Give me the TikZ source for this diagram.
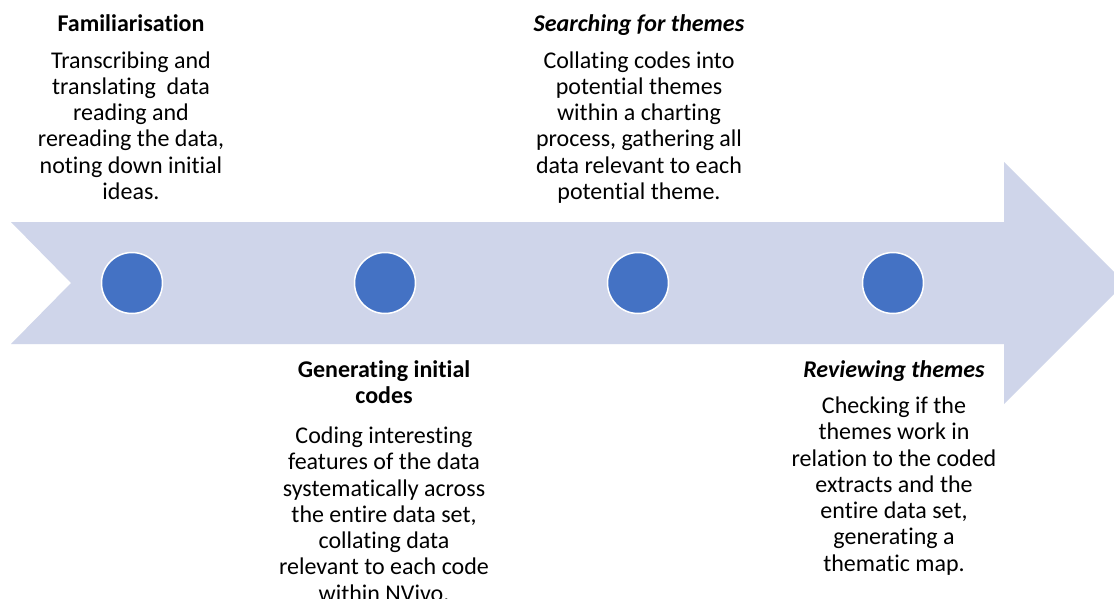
\documentclass[tikz,border=0pt]{standalone}
\usepackage{fontspec}
\setmainfont{Carlito}[Ligatures={CommonOff,ContextualOff}]
\definecolor{arrowfill}{HTML}{CFD5EA}
\definecolor{dotblue}{HTML}{4472C4}
\tikzset{
  txt/.style={align=center, inner sep=0pt, anchor=base, text=black,
    font=\fontsize{24}{26.25}\selectfont},
  ttl/.style={txt, font=\fontsize{24}{26.25}\selectfont\bfseries},
  ittl/.style={txt, font=\fontsize{24}{26.25}\selectfont\bfseries\itshape},
  dot/.style={circle, minimum size=61pt, inner sep=0pt, fill=dotblue, draw=white, line width=1.5pt},
}
\begin{document}
\begin{tikzpicture}[x=1pt,y=-1pt]
\useasboundingbox (0,0) rectangle (1114,598);
\clip (0,0) rectangle (1114,598);
\fill[white] (0,0) rectangle (1114,598);
% arrow
\fill[arrowfill] (11,222) -- (1004,222) -- (1004,162) -- (1125,283) -- (1004,404) -- (1004,344) -- (11,344) -- (71,283) -- cycle;
% dots
\node[dot] (d1) at (132,283) {};
\node[dot] (d2) at (385,283) {};
\node[dot] (d3) at (638,283) {};
\node[dot] (d4) at (893,283) {};
% (anchor = baseline of the last line)
% step 1
\node[ttl] (t1) at (131,31.7) {Familiarisation};
\node[txt] (b1) at (131,199.3) {Transcribing and\\translating\ \ data\\reading and\\rereading the data,\\noting down initial\\ideas.};
% step 3
\node[ittl] (t3) at (639,31) {Searching for themes};
\node[txt] (b3) at (639,199.3) {Collating codes into\\potential themes\\within a charting\\process, gathering all\\data relevant to each\\potential theme.};
% step 2
\node[ttl] (t2) at (384,403.3) {Generating initial\\codes};
\node[txt] (b2) at (384,601) {Coding interesting\\features of the data\\systematically across\\the entire data set,\\collating data\\relevant to each code\\within NVivo.};
% step 4
\node[ittl] (t4) at (894,377) {Reviewing themes};
\node[txt] (b4) at (894,571) {Checking if the\\themes work in\\relation to the coded\\extracts and the\\entire data set,\\generating a\\thematic map.};
\end{tikzpicture}
\end{document}
